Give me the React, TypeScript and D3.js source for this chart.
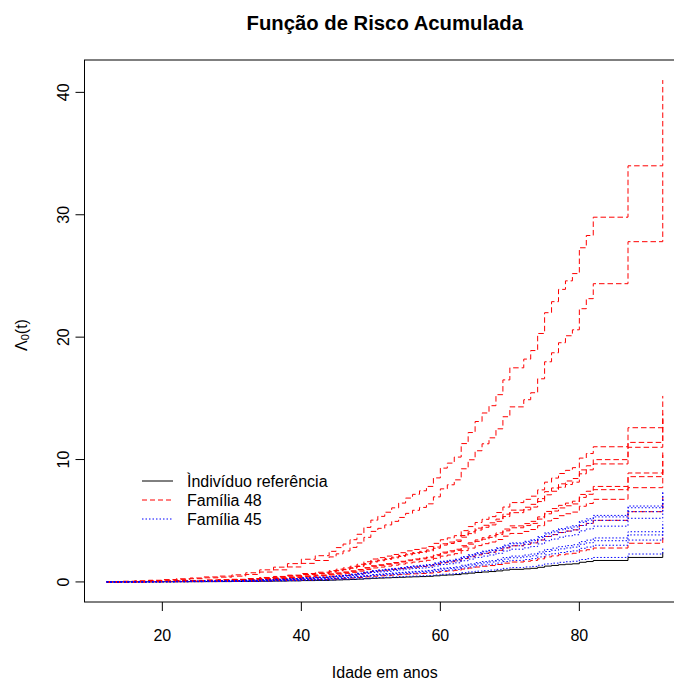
import React from "react";
import * as d3 from "d3";

// Event ages (years) at which the cumulative hazard steps up
const ages = [
  12, 14, 16, 18, 20, 22, 24, 26, 28, 30, 32, 34, 36, 38, 40, 42, 44,
  45, 46, 47, 48, 49, 50, 51, 52, 53, 54, 55, 56, 57, 58, 59, 60, 61, 62,
  63, 64, 65, 66, 67, 68, 69, 70, 72, 73, 74, 75, 76, 77, 78, 79, 80, 81,
  82, 87, 92,
];

// Baseline cumulative hazard Λ0(t) for the reference individual
const baselineHazard = [
  0, 0.003, 0.005, 0.008, 0.011, 0.015, 0.019, 0.024, 0.028, 0.034, 0.044,
  0.058, 0.071, 0.088, 0.109, 0.126, 0.147, 0.165, 0.182, 0.203, 0.229,
  0.262, 0.297, 0.315, 0.335, 0.356, 0.379, 0.403, 0.421, 0.438, 0.459,
  0.5, 0.547, 0.571, 0.6, 0.665, 0.718, 0.771, 0.812, 0.847, 0.9, 0.971,
  1.029, 1.071, 1.112, 1.194, 1.294, 1.347, 1.406, 1.447, 1.482, 1.606,
  1.665, 1.753, 2.0, 2.412,
];

// Relative risks of the members of each family
const family48Risks = [17, 13.9, 6.3, 5.7, 5.5, 4.45, 4.3, 3.85, 2.87, 1.58];
const family45Risks = [3.1, 3.03, 2.87, 2.6, 2.05, 1.92, 1.71, 1.14];

const xTicks = [20, 40, 60, 80];
const yTicks = [0, 10, 20, 30, 40];

const legendLabels = ["Ìndivíduo referência", "Família 48", "Família 45"];

const FONT = "'Liberation Sans', Arial, Helvetica, sans-serif";

const W = 674;
const H = 680;
const box = { left: 84.5, right: 685, top: 60, bottom: 602 };

type Curve = { risk: number; color: string; dash: string | null };

export default function App() {
  const curves: Curve[] = [
    { risk: 1, color: "#000000", dash: null },
    ...family48Risks.map((r) => ({ risk: r, color: "#FF0000", dash: "5.5,3" })),
    ...family45Risks.map((r) => ({ risk: r, color: "#0000FF", dash: "1.5,2" })),
  ];

  const [xMin, xMax] = d3.extent(ages) as [number, number];
  const xPad = (xMax - xMin) * 0.04;
  const yMaxData = d3.max(curves, (c) => c.risk * baselineHazard[baselineHazard.length - 1]) as number;
  const yPad = yMaxData * 0.04;

  const x = d3.scaleLinear().domain([xMin - xPad, xMax + xPad]).range([box.left, box.right]);
  const y = d3.scaleLinear().domain([0 - yPad, yMaxData + yPad]).range([box.bottom, box.top]);

  const line = d3
    .line<[number, number]>()
    .x((d) => x(d[0]))
    .y((d) => y(d[1]))
    .curve(d3.curveStepAfter);

  const pathFor = (risk: number) =>
    line(ages.map((a, i) => [a, risk * baselineHazard[i]] as [number, number])) || "";

  const legendRows = [
    { color: "#000000", dash: null as string | null },
    { color: "#FF0000", dash: "5,3" },
    { color: "#0000FF", dash: "1.5,2" },
  ];

  const plotCx = (box.left + box.right) / 2;
  const plotCy = (box.top + box.bottom) / 2;

  return (
    <svg
      width={W}
      height={H}
      style={{ position: "absolute", left: 0, top: 0, background: "#fff" }}
      fontFamily={FONT}
    >
      <rect x={0} y={0} width={W} height={H} fill="#fff" />

      <text x={plotCx} y={23} textAnchor="middle" dominantBaseline="central" fontWeight="bold" fontSize={20.3}>
        Função de Risco Acumulada
      </text>

      <g>
        {curves.map((c, i) => (
          <path
            key={i}
            d={pathFor(c.risk)}
            fill="none"
            stroke={c.color}
            strokeWidth={1}
            strokeDasharray={c.dash || undefined}
          />
        ))}
      </g>

      <rect
        x={box.left}
        y={box.top}
        width={box.right - box.left}
        height={box.bottom - box.top}
        fill="none"
        stroke="#000"
        strokeWidth={1}
      />

      {xTicks.map((t) => (
        <g key={t} transform={`translate(${x(t)},${box.bottom})`}>
          <line y1={0} y2={9} stroke="#000" />
          <text y={33} textAnchor="middle" dominantBaseline="central" fontSize={16}>
            {t}
          </text>
        </g>
      ))}
      {yTicks.map((t) => (
        <g key={t} transform={`translate(${box.left},${y(t)})`}>
          <line x1={0} x2={-9} stroke="#000" />
          <text
            transform="translate(-21,0) rotate(-90)"
            textAnchor="middle"
            dominantBaseline="central"
            fontSize={16}
          >
            {t}
          </text>
        </g>
      ))}

      <text x={plotCx} y={672} textAnchor="middle" dominantBaseline="central" fontSize={16}>
        Idade em anos
      </text>

      <text
        transform={`translate(21,${plotCy + 4}) rotate(-90)`}
        textAnchor="middle"
        dominantBaseline="central"
        fontSize={16}
      >
        Λ<tspan dy={4} fontSize={11}>0</tspan>
        <tspan dy={-4}>(t)</tspan>
      </text>

      {legendRows.map((r, i) => {
        const ly = 481 + i * 19;
        return (
          <g key={i}>
            <line
              x1={142}
              x2={173}
              y1={ly}
              y2={ly}
              stroke={r.color}
              strokeWidth={1}
              strokeDasharray={r.dash || undefined}
            />
            <text x={187} y={ly} dominantBaseline="central" fontSize={16}>
              {legendLabels[i]}
            </text>
          </g>
        );
      })}
    </svg>
  );
}
